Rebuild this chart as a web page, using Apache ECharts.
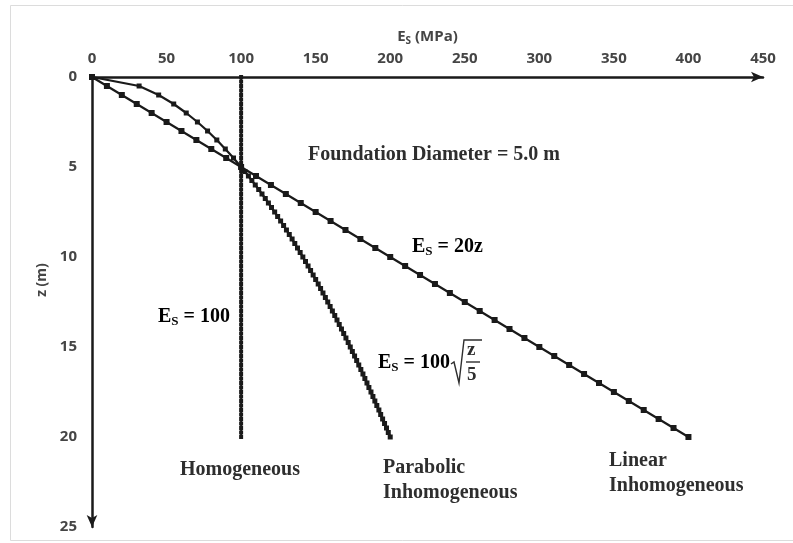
<!DOCTYPE html>
<html>
<head>
<meta charset="utf-8">
<script src="https://cdn.jsdelivr.net/npm/echarts@6/dist/echarts.min.js"></script>
<style>html,body{margin:0;padding:0;background:#fff}#c{width:793px;height:543px}</style>
</head>
<body>
<div id="c"></div>
<script>
// ---- data ----
const xTicks = [0, 50, 100, 150, 200, 250, 300, 350, 400, 450];
const yTicks = [0, 5, 10, 15, 20, 25];

// Homogeneous: Es = 100
const homZ = [0,0.25,0.5,0.75,1,1.25,1.5,1.75,2,2.25,2.5,2.75,3,3.25,3.5,3.75,4,4.25,4.5,4.75,5,5.25,5.5,5.75,6,6.25,6.5,6.75,7,7.25,7.5,7.75,8,8.25,8.5,8.75,9,9.25,9.5,9.75,10,10.25,10.5,10.75,11,11.25,11.5,11.75,12,12.25,12.5,12.75,13,13.25,13.5,13.75,14,14.25,14.5,14.75,15,15.25,15.5,15.75,16,16.25,16.5,16.75,17,17.25,17.5,17.75,18,18.25,18.5,18.75,19,19.25,19.5,19.75,20];
const homE = [100,100,100,100,100,100,100,100,100,100,100,100,100,100,100,100,100,100,100,100,100,100,100,100,100,100,100,100,100,100,100,100,100,100,100,100,100,100,100,100,100,100,100,100,100,100,100,100,100,100,100,100,100,100,100,100,100,100,100,100,100,100,100,100,100,100,100,100,100,100,100,100,100,100,100,100,100,100,100,100,100];

// Linear inhomogeneous: Es = 20z
const linZ = [0,0.5,1,1.5,2,2.5,3,3.5,4,4.5,5,5.5,6,6.5,7,7.5,8,8.5,9,9.5,10,10.5,11,11.5,12,12.5,13,13.5,14,14.5,15,15.5,16,16.5,17,17.5,18,18.5,19,19.5,20];
const linE = [0,10,20,30,40,50,60,70,80,90,100,110,120,130,140,150,160,170,180,190,200,210,220,230,240,250,260,270,280,290,300,310,320,330,340,350,360,370,380,390,400];

// Parabolic inhomogeneous: Es = 100*sqrt(z/5)
const parZ = [0,0.5,1,1.5,2,2.5,3,3.5,4,4.5,5,5.25,5.5,5.75,6,6.25,6.5,6.75,7,7.25,7.5,7.75,8,8.25,8.5,8.75,9,9.25,9.5,9.75,10,10.25,10.5,10.75,11,11.25,11.5,11.75,12,12.25,12.5,12.75,13,13.25,13.5,13.75,14,14.25,14.5,14.75,15,15.25,15.5,15.75,16,16.25,16.5,16.75,17,17.25,17.5,17.75,18,18.25,18.5,18.75,19,19.25,19.5,19.75,20];
const parE = [0,31.6,44.7,54.8,63.2,70.7,77.5,83.7,89.4,94.9,100,102.5,104.9,107.2,109.5,111.8,114.0,116.2,118.3,120.4,122.5,124.5,126.5,128.5,130.4,132.3,134.2,136.0,137.8,139.6,141.4,143.2,144.9,146.6,148.3,150.0,151.7,153.3,154.9,156.5,158.1,159.7,161.2,162.8,164.3,165.8,167.3,168.8,170.3,171.8,173.2,174.6,176.1,177.5,178.9,180.3,181.7,183.0,184.4,185.7,187.1,188.4,189.7,191.0,192.4,193.6,194.9,196.2,197.5,198.7,200];

const pairs = (xs, zs) => xs.map((v, i) => [v, zs[i]]);

// ---- chart ----
const chart = echarts.init(document.getElementById('c'), null, {renderer: 'canvas'});
const ink = '#1a1a1a';
const labelGray = '#454545';
const serif = '"Liberation Serif", "DejaVu Serif", serif';
const sans = '"Open Sans", "Noto Sans", sans-serif';

const lineSeries = (name, data, size, lw) => ({
  name, type: 'line', data, symbol: 'rect', symbolSize: size, showSymbol: true,
  lineStyle: {color: ink, width: lw}, itemStyle: {color: ink},
  animation: false, z: 3
});

const txt = (x, y, text, extra) => ({
  type: 'text', x, y,
  style: Object.assign({text, font: 'bold 20px ' + serif, fill: '#2e2e2e', textVerticalAlign: 'middle'}, extra || {})
});

const rich = {
  n: {fontFamily: serif, fontWeight: 'bold', fontSize: 20, color: '#2e2e2e', lineHeight: 23},
  s: {fontFamily: serif, fontWeight: 'bold', fontSize: 13, color: '#2e2e2e', lineHeight: 13, verticalAlign: 'bottom'}
};
const richText = (x, y, text) => ({
  type: 'text', x, y,
  style: {text, rich, textVerticalAlign: 'middle', font: 'bold 20px ' + serif}
});

chart.setOption({
  animation: false,
  backgroundColor: '#fff',
  grid: {left: 92, top: 77, right: 30, bottom: 16, containLabel: false},
  xAxis: {
    type: 'value', position: 'top', min: 0, max: 450, interval: 50,
    name: '{a|E}{b|S}{a| (MPa)}', nameLocation: 'middle', nameGap: 40, nameMoveOverlap: false,
    nameTextStyle: {
      verticalAlign: 'middle',
      rich: {
        a: {fontFamily: sans, fontWeight: 'bold', fontSize: 15, color: labelGray, lineHeight: 18},
        b: {fontFamily: sans, fontWeight: 'bold', fontSize: 10, color: labelGray, verticalAlign: 'bottom', lineHeight: 10}
      }
    },
    axisLine: {show: true, onZero: false, symbol: ['none', 'arrow'], symbolSize: [8, 12], lineStyle: {color: ink, width: 2.5}},
    axisTick: {show: false},
    axisLabel: {show: true, margin: 11, fontFamily: sans, fontWeight: 'bold', fontSize: 15, color: labelGray, customValues: xTicks},
    splitLine: {show: false}
  },
  yAxis: {
    type: 'value', inverse: true, min: 0, max: 25, interval: 5,
    name: 'z (m)', nameLocation: 'middle', nameGap: 37, nameRotate: 90,
    nameTextStyle: {fontFamily: sans, fontWeight: 'bold', fontSize: 14, color: labelGray, padding: [0, 0, 0, 44]},
    axisLine: {show: true, onZero: false, symbol: ['arrow', 'none'], symbolSize: [8, 12], lineStyle: {color: ink, width: 2.5}},
    axisTick: {show: false},
    axisLabel: {show: true, margin: 15, fontFamily: sans, fontWeight: 'bold', fontSize: 15, color: labelGray, customValues: yTicks},
    splitLine: {show: false}
  },
  series: [
    lineSeries('Homogeneous', pairs(homE, homZ), 4, 2),
    lineSeries('Linear Inhomogeneous', pairs(linE, linZ), 6, 2.2),
    lineSeries('Parabolic Inhomogeneous', pairs(parE, parZ), 5, 2.2)
  ],
  graphic: [
    {type: 'rect', shape: {x: 10.5, y: 5.5, width: 800, height: 535}, style: {fill: 'none', stroke: '#dcdcdc', lineWidth: 1}, z: -1},
    txt(308, 155, 'Foundation Diameter = 5.0 m'),
    richText(412, 247, '{n|E}{s|S}{n| = 20z}'),
    richText(158, 317, '{n|E}{s|S}{n| = 100}'),
    richText(378, 363, '{n|E}{s|S}{n| = 100}'),
    {type: 'polyline', shape: {points: [[451, 364], [454, 362], [459, 383], [464, 340], [482, 340]]}, style: {stroke: '#2e2e2e', lineWidth: 1.4, fill: 'none'}},
    txt(467, 350, 'z', {font: 'bold 19px ' + serif}),
    {type: 'line', shape: {x1: 466, y1: 362, x2: 480, y2: 362}, style: {stroke: '#2e2e2e', lineWidth: 1.4}},
    txt(467, 375, '5', {font: 'bold 19px ' + serif}),
    txt(180, 470, 'Homogeneous'),
    txt(383, 468, 'Parabolic'),
    txt(383, 493, 'Inhomogeneous'),
    txt(609, 461, 'Linear'),
    txt(609, 486, 'Inhomogeneous')
  ]
});
</script>
</body>
</html>
